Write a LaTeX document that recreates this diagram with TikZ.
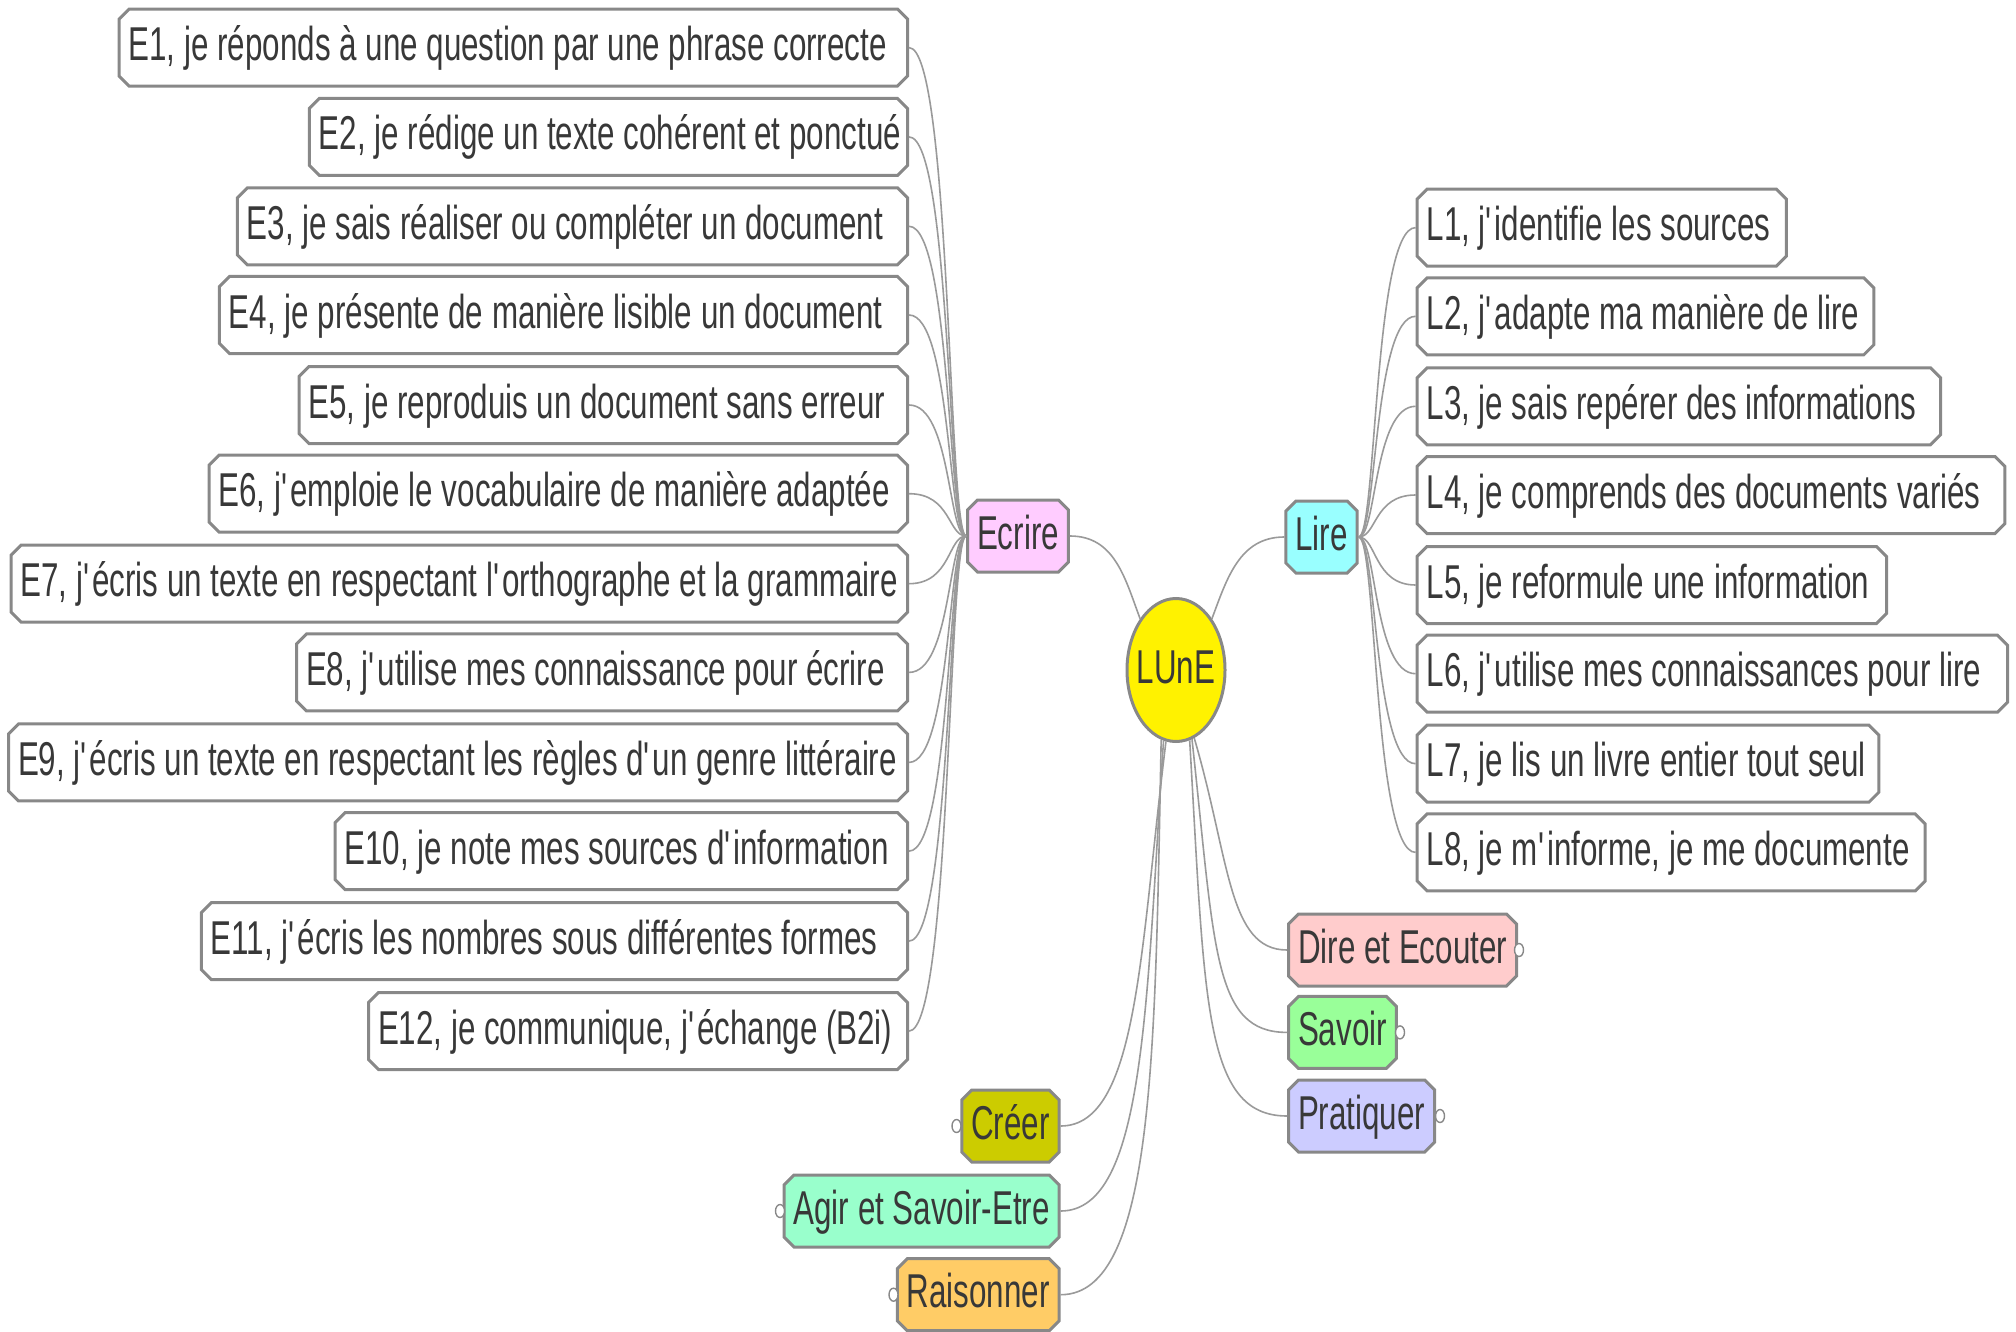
\documentclass[tikz,border=0pt]{standalone}
\usepackage{fontspec}
\setmainfont{Liberation Sans}[FakeStretch=0.66]
\usetikzlibrary{shapes.misc,shapes.geometric}
\definecolor{boxgray}{HTML}{888888}
\definecolor{txtcol}{HTML}{383838}
\definecolor{lincol}{HTML}{9A9A9A}
\newcommand\apo{\textquotesingle}
\newcommand\fsz{\fontsize{47.5}{50}\selectfont}
\newcommand\mkE[4]{\node[leaf,anchor=east] (#1) at (909,#2) {\makebox[#3pt][l]{#4}};}
\newcommand\mkL[4]{\node[leaf,anchor=west] (#1) at (1415.6,#2) {\makebox[#3pt][l]{#4}};}
\tikzset{
  leaf/.style={chamfered rectangle, chamfered rectangle xsep=5pt, chamfered rectangle ysep=5pt,
    draw=boxgray, line width=3pt, fill=white, minimum height=77pt, inner xsep=4.5pt, inner ysep=0pt,
    text height=36pt, text depth=10pt, text=txtcol, font=\fsz},
  cat/.style={leaf, minimum height=72pt},
  conn/.style={draw=lincol, line width=1.6pt},
  dot/.style={ellipse, draw=boxgray, line width=1.4pt, fill=white, minimum width=9pt, minimum height=13pt, inner sep=0pt},
}
\begin{document}
\begin{tikzpicture}[x=1pt,y=-1pt]
\useasboundingbox[fill=white] (0,0) rectangle (2016,1332);
% centre
\node[ellipse, draw=boxgray, line width=3pt, fill=yellow, minimum width=98pt, minimum height=143pt, inner sep=0pt,
  text height=36pt, text depth=10pt, text=txtcol, font=\fsz] (lune) at (1176,670) {\makebox[0pt]{LUnE}};
\node[cat, fill={rgb,255:red,255;green,204;blue,255}, minimum width=90pt] (ecrire) at (1018,536) {Ecrire};
\node[cat, fill={rgb,255:red,153;green,255;blue,255}, minimum width=59pt] (lire) at (1321.5,537) {Lire};
% E leaves
\mkE{e1}{47.6}{769.4}{E1, je réponds à une question par une phrase correcte}
\mkE{e2}{136.9}{579.1}{E2, je rédige un texte cohérent et ponctué}
\mkE{e3}{226.3}{651.1}{E3, je sais réaliser ou compléter un document}
\mkE{e4}{315}{669.1}{E4, je présente de manière lisible un document}
\mkE{e5}{405}{589.4}{E5, je reproduis un document sans erreur}
\mkE{e6}{493.7}{679.4}{E6, j\apo emploie le vocabulaire de manière adaptée}
\mkE{e7}{583.7}{877.4}{E7, j\apo écris un texte en respectant l\apo orthographe et la grammaire}
\mkE{e8}{672.4}{592}{E8, j\apo utilise mes connaissance pour écrire}
\mkE{e9}{762.4}{880}{E9, j\apo écris un texte en respectant les règles d\apo un genre littéraire}
\mkE{e10}{851.1}{553.4}{E10, je note mes sources d\apo information}
\mkE{e11}{941.1}{687.1}{E11, j\apo écris les nombres sous différentes formes}
\mkE{e12}{1031.1}{520}{E12, je communique, j\apo échange (B2i)}
% L leaves
\mkL{l1}{227.6}{350.2}{L1, j\apo identifie les sources}
\mkL{l2}{316.3}{437.7}{L2, j\apo adapte ma manière de lire}
\mkL{l3}{406.3}{504.4}{L3, je sais repérer des informations}
\mkL{l4}{495}{568.8}{L4, je comprends des documents variés}
\mkL{l5}{585}{450.4}{L5, je reformule une information}
\mkL{l6}{673.7}{571.4}{L6, j\apo utilise mes connaissances pour lire}
\mkL{l7}{763.7}{442.8}{L7, je lis un livre entier tout seul}
\mkL{l8}{852.4}{489.1}{L8, je m\apo informe, je me documente}
% other categories
\node[cat, anchor=west, fill={rgb,255:red,255;green,204;blue,204}, minimum width=214pt] (dire) at (1287,950) {Dire et Ecouter};
\node[cat, anchor=west, fill={rgb,255:red,153;green,255;blue,153}, minimum width=95pt] (savoir) at (1287,1032.4) {Savoir};
\node[cat, anchor=west, fill={rgb,255:red,204;green,204;blue,255}, minimum width=134pt] (prat) at (1287,1116) {Pratiquer};
\node[cat, anchor=east, fill={rgb,255:red,204;green,204;blue,0}, minimum width=88pt] (creer) at (1060.7,1126) {Créer};
\node[cat, anchor=east, fill={rgb,255:red,153;green,255;blue,204}, minimum width=265pt] (agir) at (1060.7,1211) {Agir et Savoir-Etre};
\node[cat, anchor=east, fill={rgb,255:red,255;green,204;blue,102}, minimum width=152pt] (rais) at (1060.7,1294.7) {Raisonner};
% collapse dots
\node[dot] (ddire) at (1519,950) {};
\node[dot] (dsav) at (1400,1032.4) {};
\node[dot] (dprat) at (1440,1116) {};
\node[dot] (dcre) at (956.5,1126) {};
\node[dot] (dagir) at (780,1211) {};
\node[dot] (drais) at (893.5,1294.7) {};
% connectors
\foreach \n in {e1,e2,e3,e4,e5,e6,e7,e8,e9,e10,e11,e12}
  \draw[conn] (ecrire.west) .. controls +(-18,0) and +(42,0) .. (\n.east);
\foreach \n in {l1,l2,l3,l4,l5,l6,l7,l8}
  \draw[conn] (lire.east) .. controls +(18,0) and +(-42,0) .. (\n.west);
\draw[conn] (ecrire.east) .. controls +(45,0) and +(-15,-40) .. (lune.125);
\draw[conn] (lire.west) .. controls +(-45,0) and +(15,-40) .. (lune.55);
\draw[conn] (lune.262) .. controls (1140,950) and (1138,1126) .. (creer.east);
\draw[conn] (lune.260) .. controls (1146,1000) and (1146,1211) .. (agir.east);
\draw[conn] (lune.258) .. controls (1155,1050) and (1155,1294.7) .. (rais.east);
\draw[conn] (lune.285) .. controls (1230,860) and (1228,950) .. (dire.west);
\draw[conn] (lune.283) .. controls (1215,950) and (1213,1032.4) .. (savoir.west);
\draw[conn] (lune.281) .. controls (1205,1000) and (1203,1116) .. (prat.west);
\end{tikzpicture}
\end{document}
